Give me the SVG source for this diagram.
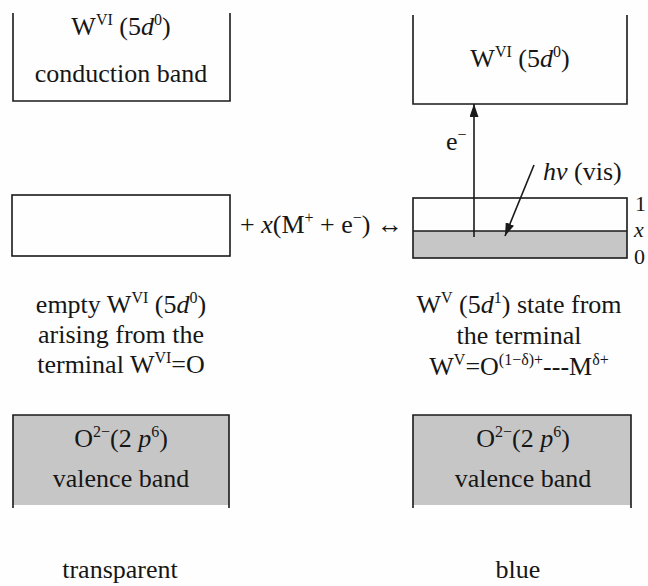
<svg xmlns="http://www.w3.org/2000/svg" width="648" height="586" viewBox="0 0 648 586">
<defs>
<style>
text{font-family:"Liberation Serif","Times New Roman",serif;font-size:26px;fill:#161616}
.sup{font-size:16px}
.it{font-style:italic}
.lvl{font-size:22px}
.edge{fill:none;stroke:#1a1a1a;stroke-width:1.6}
.gray{fill:#c6c6c6;stroke:none}
.line{stroke:#1a1a1a;stroke-width:1.6;fill:none}
</style>
<marker id="ah" viewBox="0 0 13 9" refX="13" refY="4.5" markerWidth="13" markerHeight="9" markerUnits="userSpaceOnUse" orient="auto">
<path d="M0,0 L13,4.5 L0,9 z" fill="#1a1a1a"/>
</marker>
</defs>
<rect width="648" height="586" fill="#fefefe"/>

<g id="cb-left">
<path class="edge" d="M13,13 V101 H230 V13"/>
<text x="121" y="35" text-anchor="middle">W<tspan class="sup" dy="-10">VI</tspan><tspan dy="10"> (5</tspan><tspan class="it">d</tspan><tspan class="sup" dy="-10">0</tspan><tspan dy="10">)</tspan></text>
<text x="121" y="82" text-anchor="middle">conduction band</text>
</g>

<g id="cb-right">
<path class="edge" d="M413,15 V104 H627 V15"/>
<text x="520" y="67" text-anchor="middle">W<tspan class="sup" dy="-10">VI</tspan><tspan dy="10"> (5</tspan><tspan class="it">d</tspan><tspan class="sup" dy="-10">0</tspan><tspan dy="10">)</tspan></text>
</g>

<g id="mid-left">
<rect class="edge" x="12" y="195" width="218" height="61"/>
</g>

<g id="equation">
<text x="240" y="233">+ <tspan class="it">x</tspan>(M<tspan class="sup" dy="-10">+</tspan><tspan dy="10"> + e</tspan><tspan class="sup" dy="-10">−</tspan><tspan dy="10">) ↔</tspan></text>
</g>

<g id="mid-right">
<rect class="gray" x="413" y="231" width="214" height="27"/>
<rect class="edge" x="413" y="198" width="214" height="60"/>
<line class="line" x1="413" y1="231" x2="627" y2="231"/>
<text x="635" y="211" class="lvl">1</text>
<text x="634" y="237" class="lvl it">x</text>
<text x="634" y="264" class="lvl">0</text>
</g>

<g id="connectors">
<line class="line" x1="474" y1="237" x2="474" y2="104" marker-end="url(#ah)"/>
<line class="line" x1="534" y1="165" x2="505" y2="236" marker-end="url(#ah)"/>
<text x="446" y="150">e<tspan class="sup" dy="-10">−</tspan></text>
<text x="543" y="180"><tspan class="it">hν</tspan> (vis)</text>
</g>

<g id="label-left">
<text x="121" y="313" text-anchor="middle">empty W<tspan class="sup" dy="-10">VI</tspan><tspan dy="10"> (5</tspan><tspan class="it">d</tspan><tspan class="sup" dy="-10">0</tspan><tspan dy="10">)</tspan></text>
<text x="121" y="343" text-anchor="middle">arising from the</text>
<text x="121" y="373" text-anchor="middle">terminal W<tspan class="sup" dy="-10">VI</tspan><tspan dy="10">=O</tspan></text>
</g>

<g id="label-right">
<text x="519" y="313" text-anchor="middle">W<tspan class="sup" dy="-10">V</tspan><tspan dy="10"> (5</tspan><tspan class="it">d</tspan><tspan class="sup" dy="-10">1</tspan><tspan dy="10">) state from</tspan></text>
<text x="519" y="344" text-anchor="middle">the terminal</text>
<text x="519" y="375" text-anchor="middle">W<tspan class="sup" dy="-10">V</tspan><tspan dy="10">=O</tspan><tspan class="sup" dy="-10">(1−δ)+</tspan><tspan dy="10">---M</tspan><tspan class="sup" dy="-10">δ+</tspan></text>
</g>

<g id="vb-left">
<rect class="gray" x="13" y="415" width="216" height="90"/>
<path class="edge" d="M13,508 V415 H229 V508"/>
<text x="121" y="447" text-anchor="middle">O<tspan class="sup" dy="-10">2−</tspan><tspan dy="10">(2 </tspan><tspan class="it">p</tspan><tspan class="sup" dy="-10">6</tspan><tspan dy="10">)</tspan></text>
<text x="121" y="487" text-anchor="middle">valence band</text>
</g>

<g id="vb-right">
<rect class="gray" x="413" y="415" width="218" height="90"/>
<path class="edge" d="M413,508 V415 H631 V508"/>
<text x="523" y="447" text-anchor="middle">O<tspan class="sup" dy="-10">2−</tspan><tspan dy="10">(2 </tspan><tspan class="it">p</tspan><tspan class="sup" dy="-10">6</tspan><tspan dy="10">)</tspan></text>
<text x="523" y="487" text-anchor="middle">valence band</text>
</g>

<g id="captions">
<text x="120" y="578" text-anchor="middle">transparent</text>
<text x="518" y="578" text-anchor="middle">blue</text>
</g>
</svg>
